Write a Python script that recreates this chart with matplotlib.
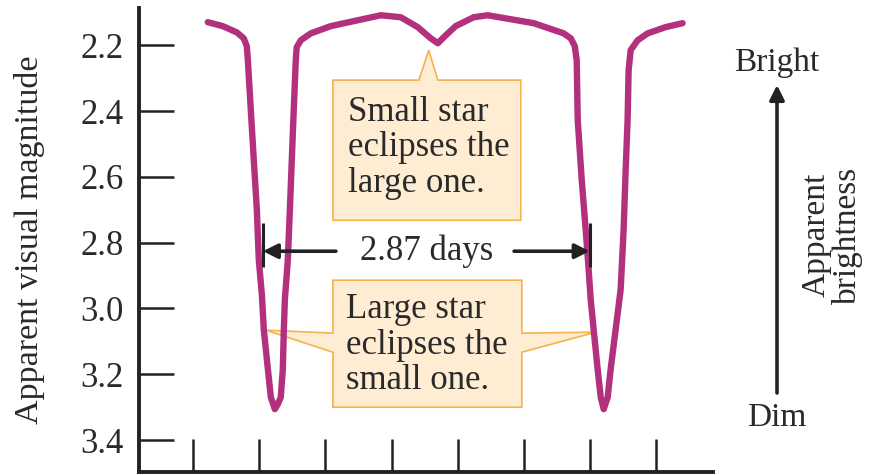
import matplotlib
matplotlib.use("Agg")
import matplotlib.pyplot as plt
from matplotlib.patches import Polygon

# Light curve of an eclipsing binary (time in days, apparent visual magnitude)
time_days = [0.710, 0.842, 0.965, 1.026, 1.053, 1.062, 1.088, 1.114, 1.141, 1.158,
             1.185, 1.202, 1.220, 1.238, 1.264, 1.299, 1.325, 1.351, 1.369, 1.378,
             1.387, 1.413, 1.431, 1.448, 1.465, 1.483, 1.491, 1.527, 1.615, 1.790,
             2.229, 2.405, 2.554, 2.668, 2.730, 2.800, 2.887, 3.045, 3.168, 3.572,
             3.836, 3.898, 3.933, 3.950, 3.959, 3.994, 4.029, 4.055, 4.073, 4.099,
             4.134, 4.161, 4.187, 4.222, 4.248, 4.292, 4.336, 4.362, 4.380, 4.397,
             4.406, 4.424, 4.485, 4.573, 4.731, 4.880]
magnitude = [2.130, 2.142, 2.161, 2.179, 2.203, 2.245, 2.397, 2.548, 2.700, 2.852,
             2.958, 3.064, 3.124, 3.185, 3.270, 3.306, 3.291, 3.270, 3.185, 3.064,
             2.973, 2.852, 2.700, 2.548, 2.397, 2.245, 2.206, 2.185, 2.164, 2.142,
             2.109, 2.115, 2.145, 2.179, 2.194, 2.170, 2.142, 2.115, 2.109, 2.133,
             2.164, 2.179, 2.203, 2.245, 2.427, 2.609, 2.761, 2.882, 2.973, 3.064,
             3.185, 3.270, 3.306, 3.270, 3.185, 3.064, 2.942, 2.761, 2.579, 2.427,
             2.276, 2.215, 2.185, 2.164, 2.145, 2.133]

mag_ticks = [2.2, 2.4, 2.6, 2.8, 3.0, 3.2, 3.4]
mag_labels = ["2.2", "2.4", "2.6", "2.8", "3.0", "3.2", "3.4"]
time_ticks = [0.581, 1.162, 1.743, 2.324, 2.905, 3.486, 4.067, 4.648]

period = 2.87
first_mark = 1.194  # where the period bracket starts

curve_color = "#b3307f"
box_face = "#feecd3"
box_edge = "#f6b24c"
ink = "#222222"
text_color = "#2a2a2a"
serif = ["Liberation Serif", "DejaVu Serif"]

plt.rcParams["font.family"] = serif

fig = plt.figure(figsize=(8.72, 4.75), dpi=100)
ax = fig.add_axes([0.1594, 0.0063, 0.658, 0.9768])

ax.plot(time_days, magnitude, color=curve_color, lw=4.6,
        solid_capstyle="round", solid_joinstyle="round", zorder=3)

ax.set_xlim(0.106, 5.145)
ax.set_ylim(3.497, 2.087)

for side in ("top", "right"):
    ax.spines[side].set_visible(False)
for side in ("left", "bottom"):
    ax.spines[side].set_linewidth(2.8)
    ax.spines[side].set_color(ink)

ax.set_yticks(mag_ticks)
ax.set_yticklabels(mag_labels)
ax.set_xticks(time_ticks)
ax.set_xticklabels([])
ax.tick_params(axis="y", direction="in", length=25, width=1.8, color=ink,
               labelsize=25, labelcolor=text_color, pad=11)
ax.tick_params(axis="x", direction="in", length=24, width=1.8, color=ink)

ax.set_ylabel("Apparent visual magnitude", fontsize=24.5, color=text_color)
ax.yaxis.set_label_coords(-0.164, 0.5)

# Callout: secondary eclipse
b1 = Polygon([(1.809, 2.306), (2.564, 2.306), (2.651, 2.215), (2.730, 2.306),
              (3.459, 2.306), (3.459, 2.732), (1.809, 2.732)],
             closed=True, facecolor=box_face, edgecolor=box_edge, lw=1.2, zorder=2)
ax.add_patch(b1)
ax.text(1.94, 2.512, "Small star\neclipses the\nlarge one.", fontsize=25,
        color=text_color, ha="left", va="center", linespacing=1.1, zorder=4)

# Callout: primary eclipses
b2 = Polygon([(1.809, 2.914), (3.468, 2.914), (3.468, 3.075), (4.118, 3.072),
              (3.468, 3.133), (3.468, 3.300), (1.809, 3.300), (1.809, 3.133),
              (1.220, 3.066), (1.809, 3.075)],
             closed=True, facecolor=box_face, edgecolor=box_edge, lw=1.2, zorder=2)
ax.add_patch(b2)
ax.text(1.925, 3.112, "Large star\neclipses the\nsmall one.", fontsize=25,
        color=text_color, ha="left", va="center", linespacing=1.1, zorder=4)

# Period bracket
t0, t1 = first_mark, first_mark + period
ax.vlines([t0, t1], 2.741, 2.875, color=ink, lw=2.2, zorder=5)
arrow = dict(arrowstyle="-|>", mutation_scale=22, lw=2.6, color=ink,
             shrinkA=0, shrinkB=0)
ax.annotate("", xy=(t0, 2.826), xytext=(1.835, 2.826), arrowprops=arrow, zorder=5)
ax.annotate("", xy=(t1, 2.826), xytext=(3.40, 2.826), arrowprops=arrow, zorder=5)
ax.text((t0 + t1) / 2, 2.826, f"{period} days", fontsize=25, color=text_color,
        ha="center", va="center", zorder=5)

# Brightness direction arrow on the right
ax.annotate("", xy=(777, 390), xytext=(777, 82), xycoords="figure pixels",
            textcoords="figure pixels",
            arrowprops=dict(arrowstyle="-|>", mutation_scale=22, lw=2.6,
                            color=ink, shrinkA=0, shrinkB=0))
fig.text(777 / 872, 412 / 475, "Bright", fontsize=24, color=text_color,
         ha="center", va="center")
fig.text(777 / 872, 57 / 475, "Dim", fontsize=24, color=text_color,
         ha="center", va="center")
fig.text(832 / 872, 240 / 475, "Apparent\nbrightness", fontsize=24,
         color=text_color, ha="center", va="center", rotation=90,
         multialignment="center", linespacing=1.0)

fig.savefig("out.png", dpi=100)
